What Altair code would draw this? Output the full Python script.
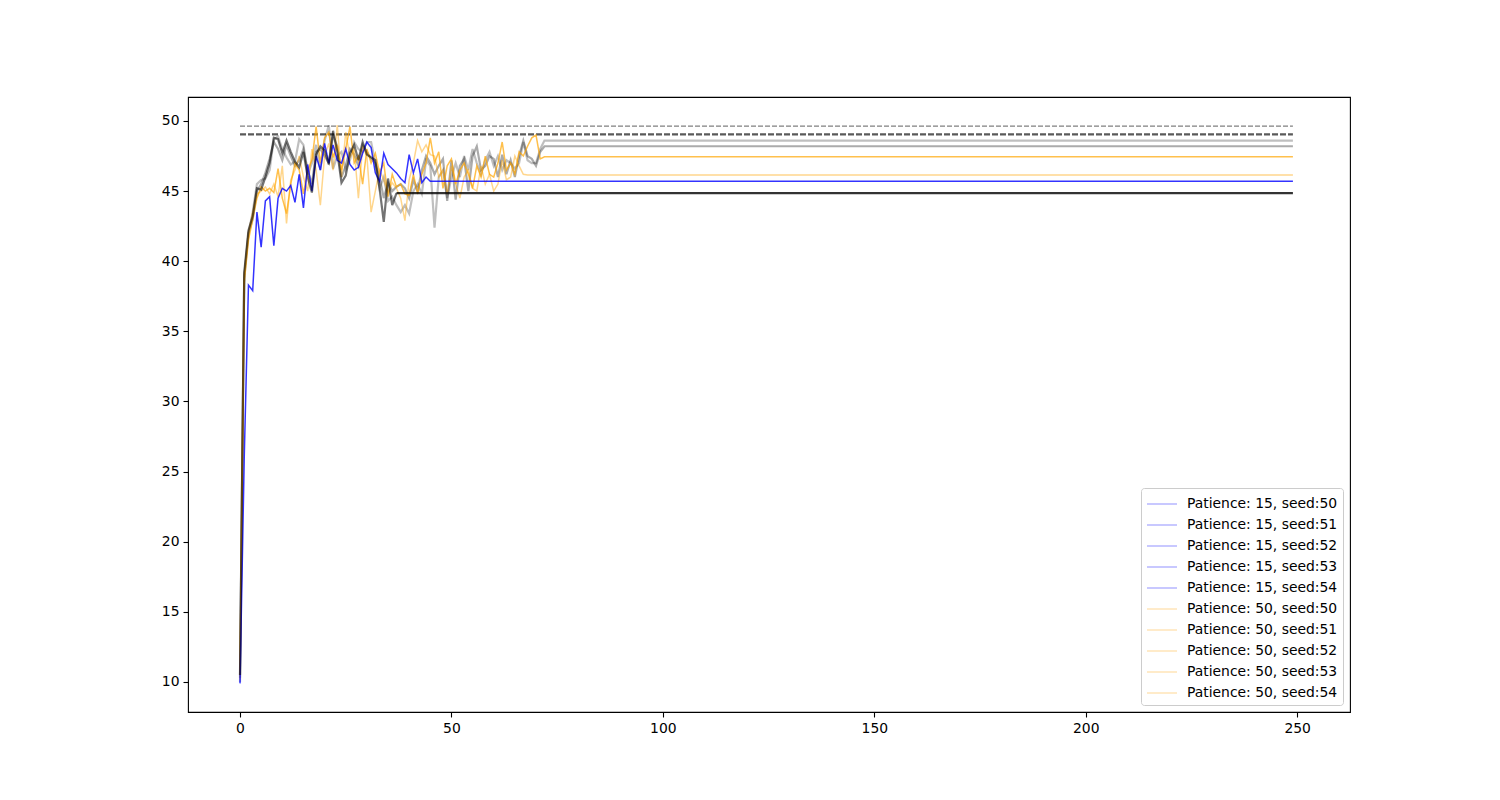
import altair as alt
import pandas as pd

LAST_EPOCH = 249

# ---- data (validation accuracy per epoch) ----
blue_p15 = [9.9, 26.0, 38.3, 37.9, 43.5, 41.0, 44.3, 44.6, 41.1, 44.5,
            45.2, 45.0, 45.4, 44.2, 46.2, 43.8, 46.9, 45.0, 47.5, 46.5,
            48.4, 47.0, 48.3, 47.2, 47.0, 48.0, 46.9, 46.5, 46.7, 47.7,
            48.5, 48.1, 46.3, 45.7, 47.7, 46.9, 46.6, 46.3, 45.9, 45.6,
            47.6, 46.3, 47.3, 45.6, 46.0, 45.7]
blue_flat = 45.7

dark_gray = [10.5, 39.2, 42.2, 43.2, 45.2, 45.1, 46.0, 47.0, 48.8, 48.7,
             47.7, 48.6, 47.8, 47.1, 46.7, 47.8, 46.0, 44.9, 47.6, 48.2,
             47.9, 46.9, 49.3, 47.8, 45.6, 46.1, 47.7, 48.3, 47.2, 48.5,
             47.6, 47.4, 47.2, 45.2, 42.8, 45.9, 44.0, 44.85]
black_flat_start = 37
black_flat = 44.85

light_gray = [10.0, 39.0, 42.0, 43.5, 45.5, 45.8, 45.9, 46.5, 48.7, 48.9,
              48.0, 47.4, 46.9, 47.1, 48.7, 48.3, 46.2, 47.0, 48.3, 46.5,
              48.6, 49.7, 46.6, 47.5, 47.8, 46.5, 47.2, 48.5, 48.0, 47.8,
              48.5, 48.5, 47.0, 45.2, 46.0, 44.3, 44.6, 44.0, 43.5, 44.0,
              43.4, 45.0, 45.5, 44.8, 47.2, 46.8, 42.4, 46.0, 46.5, 44.5,
              46.0, 47.0, 46.0, 47.5, 46.5, 48.0, 47.0, 46.2, 47.2, 47.8,
              46.8, 47.5, 46.5, 47.2, 47.0, 46.6, 47.0, 48.5, 47.2, 47.0,
              47.0, 48.0, 48.6]
light_gray_flat = 48.6

mid_gray = [10.3, 38.8, 42.0, 43.0, 45.0, 45.5, 46.3, 47.3, 48.5, 48.0,
            47.2, 48.3, 47.5, 46.8, 47.2, 48.0, 46.5, 45.5, 47.8, 48.0,
            47.5, 47.0, 49.0, 48.2, 46.0, 46.8, 48.0, 47.6, 46.8, 48.3,
            47.8, 47.3, 47.0, 46.0, 44.5, 45.6, 45.0, 45.3, 45.5, 45.2,
            44.5, 45.8, 45.0, 46.5, 47.5, 47.0, 46.2, 46.8, 47.3, 44.3,
            47.2, 44.4, 46.8, 47.3, 45.0, 47.5, 48.2, 46.5, 46.8, 47.5,
            47.3, 46.0, 47.6, 46.2, 47.2, 46.0, 47.5, 48.6, 47.5, 47.3,
            46.8, 47.8, 48.2]
mid_gray_flat = 48.2

orange_p50 = [10.5, 38.5, 41.5, 43.0, 44.5, 45.3, 45.0, 45.2, 44.9, 46.6,
              44.5, 43.4, 45.5, 47.0, 46.5, 44.8, 46.5, 47.2, 49.6, 47.0,
              48.8, 49.2, 47.4, 48.3, 46.5, 48.0, 49.6, 47.0, 47.5, 45.5,
              48.0, 47.0, 47.7, 46.3, 47.0, 44.6, 46.2, 45.3, 45.5, 44.8,
              44.7, 46.2, 44.8, 46.2, 47.0, 48.8, 47.0, 47.8, 45.2, 46.8,
              47.3, 45.5, 46.5, 47.0, 46.2, 45.2, 46.8, 46.0, 47.5, 46.2,
              46.0, 47.0, 48.5, 46.5, 47.0, 46.2, 47.8, 47.5, 48.2, 48.8,
              49.0, 47.3, 47.45]
orange_flat = 47.45

light_orange = [10.2, 39.0, 42.0, 43.5, 44.8, 45.0, 45.3, 44.8, 45.5, 44.6,
                46.8, 42.7, 45.8, 46.5, 47.5, 46.0, 45.0, 48.0, 46.5, 44.0,
                47.5, 48.4, 46.5, 49.7, 46.0, 49.2, 47.4, 48.0, 44.5, 48.2,
                47.5, 43.5, 45.0, 46.5, 45.8, 44.9, 45.6, 45.2, 44.5, 42.9,
                45.8, 47.0, 48.6, 47.8, 48.3, 47.6, 47.5, 46.0, 46.5, 44.8,
                46.8, 45.5, 44.5, 46.0, 46.5, 45.2, 45.0, 46.8, 45.5, 46.2,
                45.0, 45.5, 47.2, 45.8, 46.0, 47.5, 46.8, 46.2, 46.15]
light_orange_flat = 46.15

best_line_1 = 49.64
best_line_2 = 49.05

legend_labels = [f"Patience: {p}, seed:{s}" for p in (15, 50) for s in range(50, 55)]
legend_colors = ["#a3a3ff"] * 5 + ["#ffdea6"] * 5

x_ticks = [0, 50, 100, 150, 200, 250]
y_ticks = [10, 15, 20, 25, 30, 35, 40, 45, 50]


def curve(values, flat):
    ep = list(range(len(values))) + [LAST_EPOCH]
    return pd.DataFrame({"epoch": ep, "value": list(values) + [flat]})


def hline(start, val):
    return pd.DataFrame({"epoch": [start, LAST_EPOCH], "value": [val, val]})


x_enc = alt.X("epoch:Q",
              scale=alt.Scale(domain=[-12.3, 262.5], nice=False, zero=False),
              axis=alt.Axis(values=x_ticks, title=None))
y_enc = alt.Y("value:Q",
              scale=alt.Scale(domain=[7.86, 51.71], nice=False, zero=False),
              axis=alt.Axis(values=y_ticks, title=None))

specs = [
    (hline(0, best_line_1), dict(color="#808080", strokeWidth=1.3, strokeDash=[5, 2])),
    (hline(0, best_line_2), dict(color="#5a5a5a", strokeWidth=2.2, strokeDash=[6, 2])),
    (curve(light_gray, light_gray_flat), dict(color="#000000", opacity=0.25, strokeWidth=2.2)),
    (curve(mid_gray, mid_gray_flat), dict(color="#000000", opacity=0.33, strokeWidth=2.2)),
    (curve(light_orange, light_orange_flat), dict(color="#ffa500", opacity=0.45, strokeWidth=1.5)),
    (curve(orange_p50, orange_flat), dict(color="#ffa500", opacity=0.7, strokeWidth=1.5)),
    (curve(blue_p15, blue_flat), dict(color="#0000ff", opacity=0.8, strokeWidth=1.5)),
    (pd.DataFrame({"epoch": list(range(len(dark_gray))), "value": dark_gray}),
     dict(color="#000000", opacity=0.55, strokeWidth=2.2)),
    (hline(black_flat_start, black_flat), dict(color="#000000", opacity=0.8, strokeWidth=2.2)),
]

layers = []
for df, style in specs:
    layers.append(alt.Chart(df).mark_line(**style).encode(x=x_enc, y=y_enc, order="epoch:Q"))

# legend layer: one point per label (draws nothing visible), carries the legend
leg_df = pd.DataFrame({"label": legend_labels, "epoch": [0] * 10, "value": [10] * 10})
legend_layer = alt.Chart(leg_df).mark_line(strokeWidth=1.2).encode(
    x=x_enc, y=y_enc,
    color=alt.Color("label:N",
                    scale=alt.Scale(domain=legend_labels, range=legend_colors),
                    legend=alt.Legend(title=None, orient="bottom-right", offset=7,
                                      padding=5, rowPadding=3,
                                      symbolType="M-1.5,0L1.5,0", symbolSize=400,
                                      symbolStrokeWidth=1.2, symbolOffset=5,
                                      labelOffset=14,
                                      labelFont="DejaVu Sans", labelFontSize=13.9,
                                      labelColor="black",
                                      strokeColor="#cccccc", fillColor="rgba(255,255,255,0.8)",
                                      cornerRadius=3)))
layers.append(legend_layer)

chart = alt.layer(*layers).properties(
    width=1162, height=615,
    padding={"left": 180, "top": 89, "right": 134, "bottom": 72},
    autosize=alt.AutoSizeParams(type="none"),
    background="white",
).configure_view(stroke="black", strokeWidth=1.1).configure_axis(
    domain=False, grid=False, tickColor="black", tickSize=5, tickWidth=1.1,
    labelFont="DejaVu Sans", labelFontSize=13.9, labelColor="black", labelPadding=4,
)

chart.save("out.html", embed_options={"renderer": "svg", "actions": False})
